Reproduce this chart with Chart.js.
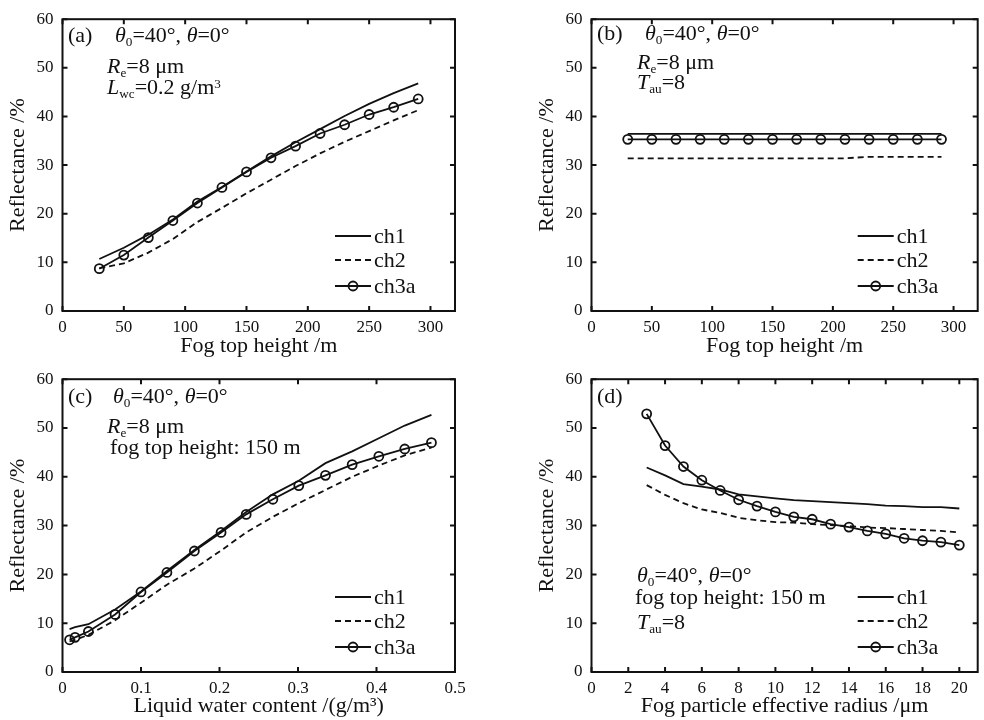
<!DOCTYPE html>
<html>
<head>
<meta charset="utf-8">
<script src="https://cdn.jsdelivr.net/npm/chart.js@4"></script>
<style>
body { margin: 0; background: #fff; width: 984px; height: 720px; position: relative; overflow: hidden; font-family: "Liberation Serif", serif; }
.pane { position: absolute; }
.note { position: absolute; font-size: 22px; line-height: 22px; white-space: nowrap; color: #111; }
.note i { font-style: italic; }
.sb { position: relative; top: 0.32em; font-size: 0.6em; }
.sp { position: relative; top: -0.45em; font-size: 0.6em; }
</style>
</head>
<body>
<div class="pane" style="left:0;top:0"><canvas id="ca" width="492" height="360"></canvas></div>
<div class="pane" style="left:529px;top:0"><canvas id="cb" width="455" height="360"></canvas></div>
<div class="pane" style="left:0;top:360px"><canvas id="cc" width="492" height="360"></canvas></div>
<div class="pane" style="left:529px;top:360px"><canvas id="cd" width="455" height="360"></canvas></div>

<div class="note" style="left:68px;top:24px">(a)</div>
<div class="note" style="left:115px;top:24px"><i>θ</i><span class="sb">0</span>=40°, <i>θ</i>=0°</div>
<div class="note" style="left:107px;top:55px"><i>R</i><span class="sb">e</span>=8 μm</div>
<div class="note" style="left:107px;top:76px"><i>L</i><span class="sb">wc</span>=0.2 g/m<span class="sp">3</span></div>

<div class="note" style="left:597px;top:22px">(b)</div>
<div class="note" style="left:645px;top:22px"><i>θ</i><span class="sb">0</span>=40°, <i>θ</i>=0°</div>
<div class="note" style="left:637px;top:51px"><i>R</i><span class="sb">e</span>=8 μm</div>
<div class="note" style="left:637px;top:71px"><i>T</i><span class="sb">au</span>=8</div>

<div class="note" style="left:68px;top:385px">(c)</div>
<div class="note" style="left:113px;top:385px"><i>θ</i><span class="sb">0</span>=40°, <i>θ</i>=0°</div>
<div class="note" style="left:107px;top:415px"><i>R</i><span class="sb">e</span>=8 μm</div>
<div class="note" style="left:110px;top:436px">fog top height: 150 m</div>

<div class="note" style="left:597px;top:385px">(d)</div>
<div class="note" style="left:637px;top:564px"><i>θ</i><span class="sb">0</span>=40°, <i>θ</i>=0°</div>
<div class="note" style="left:635px;top:586px">fog top height: 150 m</div>
<div class="note" style="left:637px;top:611px"><i>T</i><span class="sb">au</span>=8</div>

<script>
// panel (a): reflectance vs fog top height (L_wc fixed)
const heightA = [30, 50, 70, 90, 110, 130, 150, 170, 190, 210, 230, 250, 270, 290];
const aCh1  = [10.7, 13.0, 15.7, 18.8, 22.5, 25.5, 28.7, 31.8, 34.7, 37.4, 40.1, 42.6, 44.8, 46.8];
const aCh2  = [8.8, 9.8, 12.0, 14.8, 18.3, 21.2, 24.2, 27.0, 29.8, 32.4, 34.8, 37.0, 39.2, 41.3];
const aCh3a = [8.7, 11.5, 15.1, 18.6, 22.2, 25.4, 28.6, 31.5, 33.9, 36.5, 38.3, 40.4, 41.9, 43.6];

// panel (b): reflectance vs fog top height (Tau fixed)
const heightB = [30, 50, 70, 90, 110, 130, 150, 170, 190, 210, 230, 250, 270, 290];
const bCh1  = [36.4, 36.4, 36.4, 36.4, 36.4, 36.4, 36.4, 36.4, 36.4, 36.4, 36.4, 36.4, 36.4, 36.4];
const bCh2  = [31.4, 31.4, 31.4, 31.4, 31.4, 31.4, 31.4, 31.4, 31.4, 31.4, 31.7, 31.7, 31.7, 31.7];
const bCh3a = [35.3, 35.3, 35.3, 35.3, 35.3, 35.3, 35.3, 35.3, 35.3, 35.3, 35.3, 35.3, 35.3, 35.3];

// panel (c): reflectance vs liquid water content
const lwcC  = [0.009, 0.016, 0.033, 0.067, 0.1, 0.133, 0.168, 0.202, 0.234, 0.268, 0.301, 0.335, 0.369, 0.403, 0.436, 0.47];
const cCh1  = [8.8, 9.2, 9.8, 12.8, 16.5, 20.7, 25.0, 28.9, 32.8, 36.4, 39.2, 42.8, 45.2, 47.9, 50.5, 52.7];
const cCh2  = [6.3, 6.6, 7.6, 10.6, 14.2, 17.9, 21.2, 24.9, 28.6, 31.8, 34.6, 37.3, 40.0, 42.3, 44.4, 46.0];
const cCh3a = [6.6, 7.1, 8.3, 11.8, 16.4, 20.4, 24.8, 28.6, 32.3, 35.4, 38.2, 40.3, 42.5, 44.2, 45.7, 47.0];

// panel (d): reflectance vs effective radius
const radiusD = [3, 4, 5, 6, 7, 8, 9, 10, 11, 12, 13, 14, 15, 16, 17, 18, 19, 20];
const dCh1  = [41.9, 40.3, 38.5, 38.0, 37.4, 36.4, 36.0, 35.6, 35.2, 35.0, 34.8, 34.6, 34.4, 34.1, 34.0, 33.8, 33.8, 33.5];
const dCh2  = [38.3, 36.3, 34.6, 33.3, 32.6, 31.6, 31.1, 30.7, 30.6, 30.3, 30.1, 29.9, 29.6, 29.5, 29.3, 29.1, 28.9, 28.6];
const dCh3a = [52.9, 46.4, 42.1, 39.3, 37.2, 35.3, 34.0, 32.8, 31.8, 31.3, 30.3, 29.7, 28.9, 28.3, 27.4, 26.9, 26.6, 26.0];

const seriesNames = ['ch1', 'ch2', 'ch3a'];
const yTicks = [0, 10, 20, 30, 40, 50, 60];
const heightTicks = [0, 50, 100, 150, 200, 250, 300];
const lwcTicks = [0, 0.1, 0.2, 0.3, 0.4, 0.5];
const radiusTicks = [0, 2, 4, 6, 8, 10, 12, 14, 16, 18, 20];

const ink = '#111';
const tickFont = {family: 'Liberation Serif', size: 17};
const titleFont = {family: 'Liberation Serif', size: 22, lineHeight: 1.2};

function pts(xs, ys) {
	return xs.map((x, i) => ({x: x, y: ys[i]}));
}

// frame, inward ticks on all sides, and legend inside the plot
const framePlugin = {
	id: 'frame',
	afterDatasetsDraw(chart) {
		const ctx = chart.ctx;
		const a = chart.chartArea;
		const sx = chart.scales.x, sy = chart.scales.y;
		ctx.save();
		ctx.strokeStyle = ink;
		ctx.lineWidth = 2;
		ctx.strokeRect(a.left, a.top, a.right - a.left, a.bottom - a.top);
		ctx.beginPath();
		sx.ticks.forEach(t => {
			const p = sx.getPixelForValue(t.value);
			ctx.moveTo(p, a.bottom); ctx.lineTo(p, a.bottom - 5);
			ctx.moveTo(p, a.top); ctx.lineTo(p, a.top + 5);
		});
		sy.ticks.forEach(t => {
			const p = sy.getPixelForValue(t.value);
			ctx.moveTo(a.left, p); ctx.lineTo(a.left + 5, p);
			ctx.moveTo(a.right, p); ctx.lineTo(a.right - 5, p);
		});
		ctx.stroke();

		const rows = [75, 51, 25];
		chart.data.datasets.forEach((ds, i) => {
			const y = a.bottom - rows[i];
			const x0 = a.right - 120, x1 = a.right - 84;
			ctx.lineWidth = ds.borderWidth;
			ctx.setLineDash(ds.borderDash || []);
			ctx.beginPath();
			ctx.moveTo(x0, y); ctx.lineTo(x1, y);
			ctx.stroke();
			ctx.setLineDash([]);
			if (ds.pointRadius > 0) {
				ctx.beginPath();
				ctx.arc((x0 + x1) / 2, y, ds.pointRadius, 0, Math.PI * 2);
				ctx.lineWidth = ds.pointBorderWidth;
				ctx.stroke();
			}
			ctx.fillStyle = ink;
			ctx.font = '22px "Liberation Serif"';
			ctx.textBaseline = 'middle';
			ctx.fillText(ds.label, a.right - 81, y + 1);
		});
		ctx.restore();
	}
};

function panel(id, xs, ys, xTicks, xMax, xTitle, pad, xHeight) {
	const styles = [
		{borderDash: [], pointRadius: 0},
		{borderDash: [6, 4], pointRadius: 0},
		{borderDash: [], pointRadius: 4.5}
	];
	const datasets = ys.map((v, i) => ({
		label: seriesNames[i],
		data: pts(xs, v),
		borderColor: ink,
		borderWidth: 1.8,
		borderDash: styles[i].borderDash,
		pointRadius: styles[i].pointRadius,
		pointBorderWidth: 1.8,
		pointBorderColor: ink,
		pointBackgroundColor: 'rgba(0,0,0,0)',
		tension: 0,
		fill: false
	}));
	return new Chart(document.getElementById(id), {
		type: 'line',
		data: {datasets: datasets},
		options: {
			responsive: false,
			animation: false,
			events: [],
			layout: {padding: pad},
			plugins: {legend: {display: false}, tooltip: {enabled: false}},
			scales: {
				x: {
					type: 'linear', min: 0, max: xMax,
					grid: {display: false, drawTicks: false},
					border: {display: false},
					afterBuildTicks: s => { s.ticks = xTicks.map(v => ({value: v})); },
					afterFit: s => { s.height = xHeight; },
					ticks: {font: tickFont, color: ink, padding: 6, maxRotation: 0},
					title: {display: true, text: xTitle, font: titleFont, color: ink, padding: {top: 0, bottom: 1}}
				},
				y: {
					min: 0, max: 60,
					grid: {display: false, drawTicks: false},
					border: {display: false},
					afterBuildTicks: s => { s.ticks = yTicks.map(v => ({value: v})); },
					afterFit: s => { s.width = 62.5; },
					ticks: {font: tickFont, color: ink, padding: 9},
					title: {display: true, text: 'Reflectance /%', font: titleFont, color: ink, padding: {top: 5, bottom: 0}}
				}
			}
		},
		plugins: [framePlugin]
	});
}

panel('ca', heightA, [aCh1, aCh2, aCh3a], heightTicks, 320, 'Fog top height /m', {left: 0, top: 15, right: 37, bottom: 0}, 49);
panel('cb', heightB, [bCh1, bCh2, bCh3a], heightTicks, 320, 'Fog top height /m', {left: 0, top: 15, right: 2, bottom: 0}, 49);
panel('cc', lwcC, [cCh1, cCh2, cCh3a], lwcTicks, 0.5, 'Liquid water content /(g/m³)', {left: 0, top: 14, right: 37, bottom: 0}, 48);
panel('cd', radiusD, [dCh1, dCh2, dCh3a], radiusTicks, 21, 'Fog particle effective radius /μm', {left: 0, top: 14, right: 2, bottom: 0}, 48);
</script>
</body>
</html>
